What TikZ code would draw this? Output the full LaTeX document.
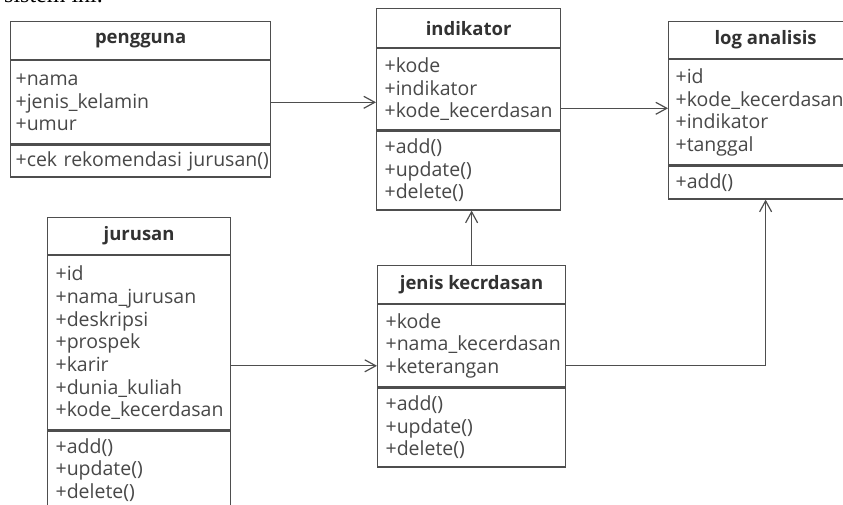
\documentclass[tikz,border=0pt]{standalone}
\usepackage{fontspec}
\setmainfont{Open Sans}
\newfontfamily\docserif{Liberation Serif}
\usetikzlibrary{arrows.meta,calc,backgrounds}
\definecolor{edge}{RGB}{78,78,78}
\definecolor{ink}{RGB}{72,72,72}
\definecolor{titleink}{RGB}{50,50,50}
\definecolor{haze}{RGB}{228,228,228}
\begin{document}
\begin{tikzpicture}[x=1pt,y=-1pt,
  part/.style={draw=edge,line width=1.2pt,fill=white,inner xsep=8pt,inner ysep=0pt,
    anchor=north west,text=ink},
  hdr/.style={part,text=titleink,font=\bfseries\fontsize{18.5}{22}\selectfont},
  cmp/.style={part,align=left,font=\fontsize{19.5}{22.5}\selectfont},
  assoc/.style={draw=edge,line width=1.2pt,-{Straight Barb[length=11pt,width=12pt,line width=1.2pt]}},
  backdrop/.style={fill=haze}]
\useasboundingbox (0,0) rectangle (843,505);
\clip (0,0) rectangle (843,505);
\fill[white] (0,0) rectangle (843,505);

% running text of the page above the diagram
\node[font=\docserif\fontsize{24}{24}\selectfont,anchor=base west,inner sep=0pt] (lead) at (4,3) {sistem ini.};

% class: pengguna
\node[hdr,minimum width=260pt,minimum height=38pt] (peng-h) at (10,21) {pengguna};
\node[cmp,inner xsep=5pt,minimum width=260pt,minimum height=83pt,text width=250pt] (peng-a) at (peng-h.south west)
  {+nama\\+jenis\_kelamin\\+umur};
\node[cmp,inner xsep=5pt,minimum width=260pt,minimum height=32pt,text width=250pt] (peng-m) at (peng-a.south west)
  {\mbox{+cek rekomendasi jurusan()}};

% class: indikator
\node[hdr,minimum width=184pt,minimum height=39pt] (ind-h) at (376,8) {indikator};
\node[cmp,minimum width=184pt,minimum height=81pt,text width=168pt] (ind-a) at (ind-h.south west)
  {+kode\\+indikator\\+kode\_kecerdasan};
\node[cmp,minimum width=184pt,minimum height=79pt,text width=168pt] (ind-m) at (ind-a.south west)
  {+add()\\+update()\\+delete()};

% class: log analisis
\node[hdr,minimum width=194pt,minimum height=37pt] (log-h) at (668,21) {log analisis};
\node[cmp,inner xsep=7pt,minimum width=194pt,minimum height=105pt,text width=180pt] (log-a) at (log-h.south west)
  {+id\\+kode\_kecerdasan\\+indikator\\+tanggal};
\node[cmp,inner xsep=7pt,minimum width=194pt,minimum height=33pt,text width=180pt] (log-m) at (log-a.south west)
  {+add()};

% class: jurusan
\node[hdr,minimum width=183pt,minimum height=37pt] (jur-h) at (47,217) {jurusan};
\node[cmp,minimum width=183pt,minimum height=174pt,text width=167pt,font=\fontsize{19.5}{22.7}\selectfont] (jur-a) at (jur-h.south west)
  {+id\\+nama\_jurusan\\+deskripsi\\+prospek\\+karir\\+dunia\_kuliah\\+kode\_kecerdasan};
\node[cmp,minimum width=183pt,minimum height=78pt,text width=167pt] (jur-m) at (jur-a.south west)
  {+add()\\+update()\\+delete()};

% class: jenis kecrdasan
\node[hdr,minimum width=188pt,minimum height=38pt] (jen-h) at (377,265) {jenis kecrdasan};
\node[cmp,minimum width=188pt,minimum height=82pt,text width=172pt] (jen-a) at (jen-h.south west)
  {+kode\\+nama\_kecerdasan\\+keterangan};
\node[cmp,minimum width=188pt,minimum height=79pt,text width=172pt] (jen-m) at (jen-a.south west)
  {+add()\\+update()\\+delete()};

% soft shadows behind the classes
\begin{scope}[on background layer]
  \foreach \c in {peng,ind,log,jur,jen}
    \fill[backdrop] ([shift={(3pt,-3pt)}]\c-h.north west) rectangle ([shift={(3pt,-3pt)}]\c-m.south east);
\end{scope}

% associations
\coordinate (logIn) at ([yshift=4pt]log-a.west);
\coordinate (jenIn) at ([yshift=-20pt]jen-a.west);
\draw[assoc] (peng-a.east) -- (peng-a.east -| ind-a.west);
\draw[assoc] (ind-a.east |- logIn) -- (logIn);
\draw[assoc] (jen-h.north) -- (jen-h.north |- ind-m.south);
\draw[assoc] (jur-a.east |- jenIn) -- (jenIn);
\draw[assoc] (jenIn -| jen-a.east) -| (log-m.south);
\end{tikzpicture}
\end{document}
